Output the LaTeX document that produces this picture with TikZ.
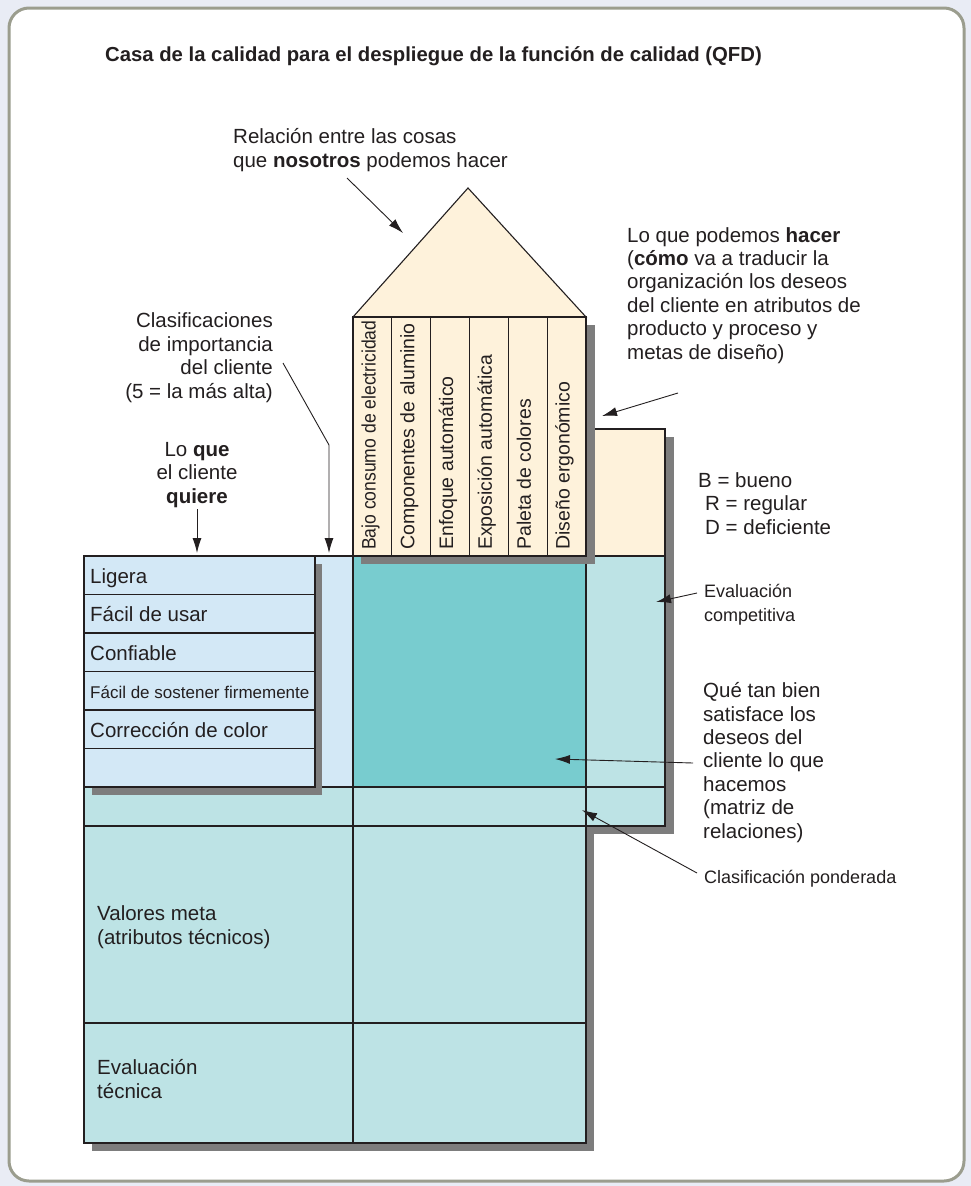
\documentclass[tikz,border=0pt]{standalone}
\usepackage{fontspec}
\setmainfont{Liberation Sans}
\usetikzlibrary{arrows.meta,positioning}
\definecolor{pagebg}{HTML}{E9ECF5}
\definecolor{framegray}{HTML}{9B9D8E}
\definecolor{roofcream}{HTML}{FEF2DB}
\definecolor{wantblue}{HTML}{D3E8F6}
\definecolor{evalcyan}{HTML}{BDE3E5}
\definecolor{matrixteal}{HTML}{78CCCF}
\definecolor{shadowgray}{HTML}{7D7D7D}
\definecolor{inkdark}{HTML}{231F20}

\begin{document}
\begin{tikzpicture}[x=1pt, y=-1pt,
    cell/.style={draw=inkdark, line width=1.1pt},
    shade/.style={fill=shadowgray},
    lbl/.style={inner sep=0pt, text=inkdark, font=\fontsize{20.5}{23.4}\selectfont},
    smalllbl/.style={lbl, font=\fontsize{18}{23.4}\selectfont},
    collbl/.style={inner sep=0pt, text=inkdark, rotate=90, anchor=base west,
                   font=\fontsize{19.5}{22}\selectfont},
    pointer/.style={-{Latex[length=15pt,width=9pt]}, line width=0.9pt, draw=inkdark}
]

% page and frame
\fill[pagebg] (0,0) rectangle (971,1186);
\useasboundingbox (0,0) rectangle (971,1186);
\draw[framegray, line width=3pt, fill=white, rounded corners=20pt] (9,8) rectangle (964,1181);

\node[lbl, font=\bfseries\fontsize{20.3}{24}\selectfont, anchor=base west] (title) at (105,61)
    {Casa de la calidad para el despliegue de la función de calidad (QFD)};

% shadows
\fill[shade] (92,795) rectangle (594,1151);
\fill[shade] (594,437) rectangle (674,834);

% lower part and right panel
\fill[evalcyan] (84,787) rectangle (586,1143);
\fill[evalcyan] (586,556) rectangle (665,826);
\filldraw[fill=wantblue, cell] (84,556) rectangle (353,787);
\fill[matrixteal] (353,556) rectangle (586,787);
\filldraw[fill=roofcream, cell] (586,429) rectangle (665,556);
\draw[cell] (84,787) rectangle (586,1143);
\draw[cell] (586,556) rectangle (665,826);
\draw[cell] (84,826) -- (665,826);
\draw[cell] (84,787) -- (665,787);
\draw[cell] (84,1023) -- (586,1023);
\draw[cell] (353,556) -- (353,1143);

% roof and columns
\fill[shade] (361,325) rectangle (595,564);
\filldraw[fill=roofcream, cell] (353,317) -- (468,188) -- (586,317) -- cycle;
\filldraw[fill=roofcream, cell] (353,317) rectangle (586,556);
\foreach \i in {1,...,5}
    \draw[cell] ({353+\i*38.83},317) -- ({353+\i*38.83},556);
\foreach \txt [count=\i] in {\scalebox{0.9}[1]{Bajo consumo de electricidad},
        Componentes de aluminio, Enfoque automático, Exposición automática,
        Paleta de colores, Diseño ergonómico}
    \node[collbl] (col\i) at ({353+(\i-1)*38.83+22.5},550) {\txt};

% what the customer wants
\fill[shade] (92,564) rectangle (322,795);
\filldraw[fill=wantblue, cell] (84,556) rectangle (315,787);
\foreach \i in {1,...,5}
    \draw[cell] (84,{556+\i*38.5}) -- (315,{556+\i*38.5});
\foreach \txt [count=\i] in {Ligera, Fácil de usar, Confiable,
        {\fontsize{17}{20}\selectfont Fácil de sostener firmemente}, Corrección de color}
    \node[lbl, anchor=base west] (want\i) at (90,{556+(\i-1)*38.5+27}) {\txt};

% labels (base = last line)
\node[lbl, anchor=base west, align=left] (relacion) at (233,167)
    {Relación entre las cosas\\que \textbf{nosotros} podemos hacer};
\node[lbl, anchor=base west, align=left] (hacer) at (627,359)
    {Lo que podemos \textbf{hacer}\\(\textbf{cómo} va a traducir la\\organización los deseos\\del cliente en atributos de\\producto y proceso y\\metas de diseño)};
\node[lbl, anchor=base east, align=right] (importancia) at (273,398)
    {Clasificaciones\\de importancia\\del cliente\\(5 = la más alta)};
\node[lbl, anchor=base, align=center] (quiere) at (197,503)
    {Lo \textbf{que}\\el cliente\\\textbf{quiere}};
\node[lbl, anchor=base west, align=left] (escala) at (698,534)
    {B = bueno\\\hspace*{7pt}R = regular\\\hspace*{7pt}D = deficiente};
\node[smalllbl, anchor=base west, align=left] (competitiva) at (704,621)
    {Evaluación\\competitiva};
\node[lbl, anchor=base west, align=left] (matriz) at (703,838)
    {Qué tan bien\\satisface los\\deseos del\\cliente lo que\\hacemos\\(matriz de\\relaciones)};
\node[smalllbl, anchor=base west] (ponderada) at (704,883) {Clasificación ponderada};
\node[lbl, anchor=base west, align=left] (metas) at (97,944)
    {Valores meta\\(atributos técnicos)};
\node[lbl, anchor=base west, align=left] (tecnica) at (97,1098)
    {Evaluación\\técnica};

% pointers
\coordinate (relacionfrom) at (347,178);
\coordinate (roofpt) at (403,233);
\coordinate (hacerfrom) at (678,393);
\coordinate (hacerpt) at (602,416);
\coordinate (impfrom) at (283,363);
\coordinate (impbend) at (329,445);
\coordinate (imppt) at (329,553);
\coordinate (quierefrom) at (197,509);
\coordinate (quierept) at (197,553);
\coordinate (compfrom) at (697,593);
\coordinate (comppt) at (656,602);
\coordinate (matrizfrom) at (693,763);
\coordinate (matrizpt) at (555,759);
\coordinate (pondfrom) at (697,873);
\coordinate (pondpt) at (582,810);

\draw[pointer] (relacionfrom) -- (roofpt);
\draw[pointer] (hacerfrom) -- (hacerpt);
\draw[pointer] (impfrom) -- (impbend) -- (imppt);
\draw[pointer] (quierefrom) -- (quierept);
\draw[pointer] (compfrom) -- (comppt);
\draw[pointer] (matrizfrom) -- (matrizpt);
\draw[pointer] (pondfrom) -- (pondpt);

\end{tikzpicture}
\end{document}
